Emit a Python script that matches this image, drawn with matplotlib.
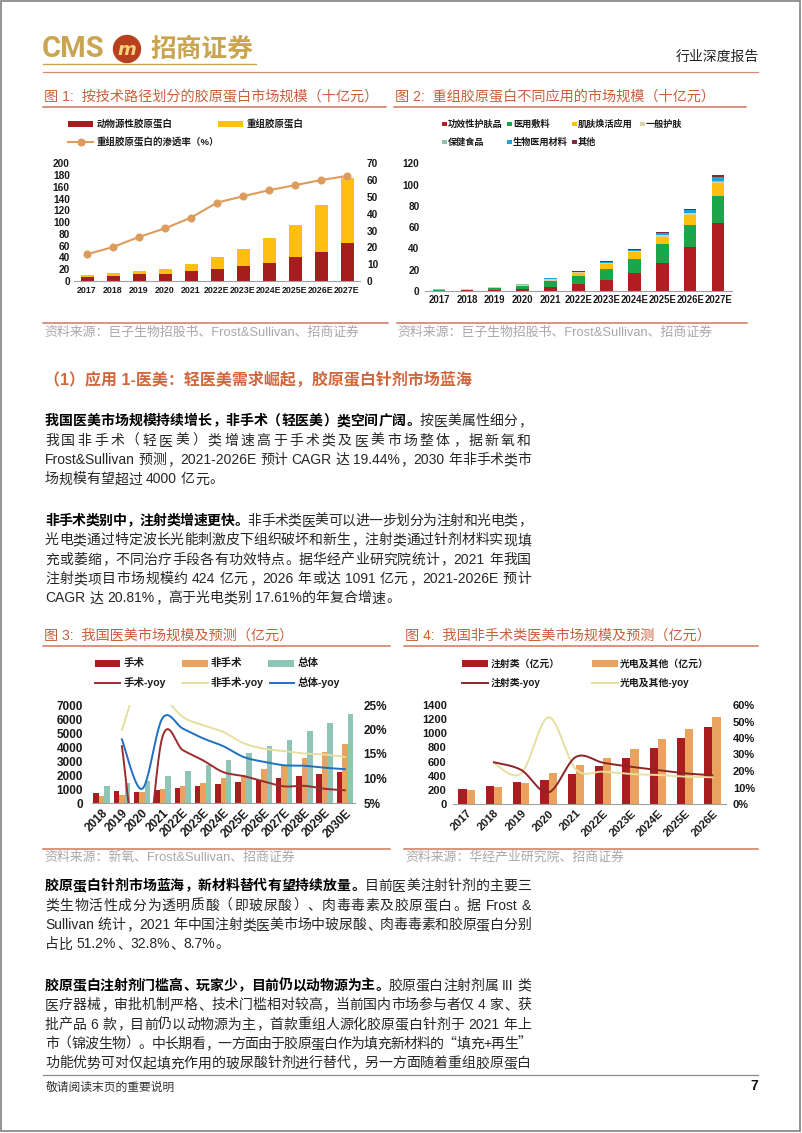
import matplotlib
matplotlib.use('Agg')
import matplotlib.pyplot as plt
import numpy as np
from matplotlib.patches import Rectangle, Ellipse
from matplotlib.lines import Line2D
from matplotlib.font_manager import FontProperties
from matplotlib.ticker import FuncFormatter

# ---------------- data ----------------
years1 = ['2017', '2018', '2019', '2020', '2021', '2022E', '2023E', '2024E', '2025E', '2026E', '2027E']
animal = [7.4, 9, 11.3, 12.5, 16.5, 20, 25, 31, 40, 50, 64]
recomb = [2.6, 4, 5.7, 8, 12.5, 21, 29, 41.5, 56, 79, 110.5]
penetration = [15.9, 20.2, 26.2, 31.3, 37.7, 46.6, 50.4, 54, 57, 60, 62.5]

app_names = ['功效性护肤品', '医用敷料', '肌肤焕活应用', '一般护肤', '保健食品', '生物医用材料', '其他']
app_func_skin = [0.3, 0.6, 1.0, 2.0, 4.2, 7.0, 10.5, 17.0, 26.5, 41.0, 64.0]
app_dressing = [0.3, 0.4, 1.5, 2.8, 5.0, 7.0, 10.0, 13.5, 17.5, 21.0, 25.0]
app_rejuv = [0.0, 0.0, 0.1, 0.2, 0.4, 3.0, 4.7, 6.3, 7.0, 9.5, 12.5]
app_general = [0.5, 0.7, 1.2, 1.0, 1.6, 0.6, 0.8, 0.8, 1.3, 1.5, 1.2]
app_health = [0.5, 0.4, 0.4, 0.3, 0.5, 0.3, 0.3, 0.3, 0.4, 0.5, 0.5]
app_biomat = [0.0, 0.0, 0.0, 0.0, 0.1, 0.3, 0.7, 0.8, 1.5, 2.5, 4.0]
app_other = [0.0, 0.0, 0.0, 0.1, 0.2, 0.7, 1.0, 1.0, 1.2, 1.5, 2.0]

years3 = ['2018', '2019', '2020', '2021', '2022E', '2023E', '2024E', '2025E', '2026E', '2027E', '2028E', '2029E', '2030E']
surgical = [750, 850, 760, 900, 1070, 1220, 1380, 1500, 1670, 1790, 1930, 2100, 2220]
nonsurgical = [490, 600, 760, 980, 1210, 1460, 1770, 2030, 2410, 2650, 3200, 3660, 4180]
total = [1220, 1460, 1550, 1940, 2290, 2700, 3100, 3540, 4040, 4520, 5110, 5730, 6380]
surgical_yoy = [16.6, -11, 18.5, 15.8, 13.7, 11.3, 10.5, 9.4, 8.4, 8.5, 7.9, 7.6]      # from 2019
nonsurgical_yoy = [19.9, 31, 27, 22.6, 20.9, 19.5, 17.2, 16.1, 15.6, 15.1, 14.9, 14.4]
total_yoy = [18.0, 7.9, 22.3, 20.2, 18.2, 16.6, 14.4, 13.4, 12.7, 12.6, 12.2, 11.9]

years4 = ['2017', '2018', '2019', '2020', '2021', '2022E', '2023E', '2024E', '2025E', '2026E']
injection = [207, 259, 316, 340, 424, 537, 655, 797, 938, 1091]
photoelec = [198, 245, 292, 443, 552, 655, 778, 915, 1061, 1235]
injection_yoy = [25.3, 20.6, 7.0, 28.5, 25.0, 22.6, 20.6, 18.6, 17.4]   # from 2018
photoelec_yoy = [24.6, 18.6, 52.5, 21.0, 19.6, 18.2, 17.6, 16.6, 16.2]

# ---------------- setup ----------------
W, H = 802, 1133
LAT = 'Liberation Sans'
CJK = 'Noto Sans CJK SC'
FAM = [LAT, CJK]
plt.rcParams['font.family'] = FAM
plt.rcParams['axes.unicode_minus'] = False
fig = plt.figure(figsize=(W / 100, H / 100), dpi=100)
PT = 100 / 72.0


def X(x):
    return x / W


def Y(y):
    return 1 - y / H


def add_ax(l, t, r, b):
    ax = fig.add_axes([X(l), Y(b), (r - l) / W, (b - t) / H])
    ax.patch.set_visible(False)
    return ax


def hline(x0, x1, y, color, lw):
    fig.add_artist(Line2D([X(x0), X(x1)], [Y(y), Y(y)], color=color, lw=lw, transform=fig.transFigure))


def style(ax, bottom=True):
    for s in ['top', 'left', 'right']:
        ax.spines[s].set_visible(False)
    ax.spines['bottom'].set_visible(bottom)
    ax.spines['bottom'].set_color('#a0a0a0')
    ax.spines['bottom'].set_linewidth(0.8)
    ax.tick_params(length=0)


def bold_ticks(ax):
    for lab in ax.get_xticklabels() + ax.get_yticklabels():
        lab.set_fontweight('bold')
        lab.set_color('#1a1a1a')


def smooth(xs, ys, n=24):
    P = np.column_stack([np.asarray(xs, float), np.asarray(ys, float)])
    out = [P[0]]
    for i in range(len(P) - 1):
        p0 = P[i - 1] if i > 0 else P[i]
        p1, p2 = P[i], P[i + 1]
        p3 = P[i + 2] if i + 2 < len(P) else P[i + 1]
        c1 = p1 + (p2 - p0) / 6
        c2 = p2 - (p3 - p1) / 6
        t = np.linspace(0, 1, n)[1:, None]
        seg = (1 - t) ** 3 * p1 + 3 * (1 - t) ** 2 * t * c1 + 3 * (1 - t) * t ** 2 * c2 + t ** 3 * p2
        out.extend(seg)
    out = np.array(out)
    return out[:, 0], out[:, 1]


def leg_patch(x0, x1, y, h, color):
    fig.add_artist(Rectangle((X(x0), Y(y + h / 2)), (x1 - x0) / W, h / H, color=color,
                             transform=fig.transFigure, lw=0))


def leg_line(x0, x1, y, color, lw=1.5, marker=None):
    fig.add_artist(Line2D([X(x0), X(x1)], [Y(y), Y(y)], color=color, lw=lw, transform=fig.transFigure))
    if marker:
        fig.add_artist(Line2D([X((x0 + x1) / 2)], [Y(y)], color=color, marker='o', ms=4.8,
                              transform=fig.transFigure, lw=0))


def leg_text(x, y, s, fs):
    fig.text(X(x), Y(y), s, ha='left', va='center', fontsize=fs, fontweight='bold',
             family=FAM, color='#1a1a1a')


# ---------------- page frame & header ----------------
fig.add_artist(Rectangle((X(1), Y(1131)), 799 / W, 1130 / H, fill=False, ec='#808080', lw=1.2,
                         transform=fig.transFigure))
GOLD = '#c9a551'
fig.text(X(42), Y(49), 'CMS', fontsize=21, family='Roboto', fontweight='bold', color=GOLD,
         ha='left', va='center')
fig.add_artist(Ellipse((X(127), Y(49)), 27 / W, 27 / H, color='#b8401f', transform=fig.transFigure))
fig.text(X(127), Y(50), 'm', fontsize=13, fontweight='bold', style='italic', color='#f4d27a',
         ha='center', va='center', family='DejaVu Sans')
fig.text(X(150), Y(49), '招商证券', fontsize=18.5, family=CJK, fontweight='bold', color=GOLD,
         ha='left', va='center')
hline(43, 256, 64, GOLD, 1.0)
fig.text(X(759), Y(57), '行业深度报告', fontsize=10, family=CJK, color='#222222', ha='right', va='center')
hline(43, 758, 72, '#d98a74', 0.9)

TITLE_C = '#c8603c'
LINE_C = '#d07858'
SRC_C = '#a8a8a8'

fig.text(X(44), Y(97), '图 1:  按技术路径划分的胶原蛋白市场规模（十亿元）', fontsize=10.2, color=TITLE_C,
         family=FAM, ha='left', va='center')
fig.text(X(395), Y(97), '图 2:  重组胶原蛋白不同应用的市场规模（十亿元）', fontsize=10.2, color=TITLE_C,
         family=FAM, ha='left', va='center')
hline(43, 386, 106.5, LINE_C, 1.1)
hline(394, 746, 106.5, LINE_C, 1.1)

# ---------------- chart 1 ----------------
C_ANIMAL = '#a51d1f'
C_RECOMB = '#fdc010'
C_PEN = '#dd9c5c'
ax1 = add_ax(74, 163.3, 360, 281)
x1 = np.arange(len(years1))
ax1.bar(x1, animal, width=0.5, color=C_ANIMAL, zorder=2)
ax1.bar(x1, recomb, width=0.5, bottom=animal, color=C_RECOMB, zorder=2)
ax1.set_xlim(-0.5, len(years1) - 0.5)
ax1.set_ylim(0, 200)
ax1.set_yticks(range(0, 201, 20))
ax1.set_xticks(x1)
ax1.set_xticklabels(years1)
style(ax1)
ax1.tick_params(axis='y', labelsize=7.3, pad=3)
ax1.tick_params(axis='x', labelsize=6.4, pad=3.5)
bold_ticks(ax1)
ax1r = ax1.twinx()
ax1r.patch.set_visible(False)
ax1r.plot(x1, penetration, color=C_PEN, lw=1.5, marker='o', ms=4.8, zorder=3)
ax1r.set_ylim(0, 70)
ax1r.set_yticks(range(0, 71, 10))
style(ax1r, bottom=False)
ax1r.tick_params(axis='y', labelsize=7.3, pad=5)
bold_ticks(ax1r)

leg_patch(68, 93, 124, 6, C_ANIMAL)
leg_text(97, 124, '动物源性胶原蛋白', 6.8)
leg_patch(218, 243, 124, 6, C_RECOMB)
leg_text(247, 124, '重组胶原蛋白', 6.8)
leg_line(68, 93, 142, C_PEN, 1.5, marker=True)
leg_text(97, 142, '重组胶原蛋白的渗透率（%）', 6.8)

# ---------------- chart 2 ----------------
app_series = [app_func_skin, app_dressing, app_rejuv, app_general, app_health, app_biomat, app_other]
app_colors = ['#b01e23', '#1aa64b', '#fdc010', '#d9d1a3', '#8ec3a8', '#1ba3dc', '#7d2b35']
ax2 = add_ax(425, 163.3, 732, 291)
x2 = np.arange(len(years1))
bottom = np.zeros(len(years1))
for vals, col in zip(app_series, app_colors):
    ax2.bar(x2, vals, width=0.45, bottom=bottom, color=col, zorder=2)
    bottom += np.asarray(vals)
ax2.set_xlim(-0.5, len(years1) - 0.5)
ax2.set_ylim(0, 120)
ax2.set_yticks(range(0, 121, 20))
ax2.set_xticks(x2)
ax2.set_xticklabels(years1)
style(ax2)
ax2.tick_params(axis='y', labelsize=7.2, pad=4)
ax2.tick_params(axis='x', labelsize=6.9, pad=3)
bold_ticks(ax2)

leg_pos = [(442, 124), (507, 124), (572, 124), (640, 124), (442, 142), (507, 142), (572, 142)]
for (lx, ly), name, col in zip(leg_pos, app_names, app_colors):
    leg_patch(lx, lx + 4.5, ly, 4.5, col)
    leg_text(lx + 6, ly, name, 6.6)

# sources 1/2
hline(43, 388, 323, LINE_C, 1.1)
hline(397, 747, 323, LINE_C, 1.1)
fig.text(X(44), Y(333), '资料来源：巨子生物招股书、Frost&Sullivan、招商证券', fontsize=9.3, color=SRC_C,
         family=FAM, ha='left', va='center')
fig.text(X(397), Y(333), '资料来源：巨子生物招股书、Frost&Sullivan、招商证券', fontsize=9.3, color=SRC_C,
         family=FAM, ha='left', va='center')

# ---------------- section heading ----------------
fig.text(X(44), Y(380), '（1）应用 1-医美：轻医美需求崛起，胶原蛋白针剂市场蓝海', fontsize=11.5,
         fontweight='bold', color='#d0663e', family=FAM, ha='left', va='center')

# ---------------- body text (justified) ----------------
BODY_FS = 10
EM = BODY_FS * PT
renderer = fig.canvas.get_renderer()
LEFT_P = set('，。、）；：！？”’》】')
RIGHT_P = set('（“‘《【')


def is_cjk(ch):
    return ord(ch) > 0x2000


def tokenize(segments):
    toks = []
    pending = False
    for text, bold in segments:
        buf = ''
        bufsp = False
        for ch in text:
            if ch == ' ':
                if buf:
                    toks.append((buf, bold, 'lat', bufsp))
                    buf = ''
                pending = True
            elif is_cjk(ch):
                if buf:
                    toks.append((buf, bold, 'lat', bufsp))
                    buf = ''
                toks.append((ch, bold, 'cjk', pending))
                pending = False
            else:
                if not buf:
                    bufsp = pending
                    pending = False
                buf += ch
        if buf:
            toks.append((buf, bold, 'lat', bufsp))
    return toks


def draw_line(x0, x1, yc, segments, justify=True):
    toks = tokenize(segments)
    widths = []
    for s, bold, kind, _ in toks:
        if kind == 'cjk':
            widths.append(EM)
        else:
            fp = FontProperties(family=LAT, size=BODY_FS, weight='bold' if bold else 'normal')
            w, h, d = renderer.get_text_width_height_descent(s, fp, ismath=False)
            widths.append(w)
    gaps = [0.28 * EM if t[3] else 0.0 for t in toks[1:]]
    natural = sum(widths) + sum(gaps)
    extra = (x1 - x0 - natural) / (len(toks) - 1) if (justify and len(toks) > 1) else 0.0
    base = yc + 0.37 * EM
    x = x0
    for i, (s, bold, kind, _) in enumerate(toks):
        if i > 0:
            x += gaps[i - 1] + extra
        w = widths[i]
        wt = 'bold' if bold else 'normal'
        col = '#000000' if bold else '#262626'
        if kind == 'cjk':
            if s in LEFT_P:
                fig.text(X(x + 0.06 * EM), Y(base), s, ha='left', va='baseline', family=CJK,
                         fontsize=BODY_FS, fontweight=wt, color=col)
            elif s in RIGHT_P:
                fig.text(X(x + 0.94 * EM), Y(base), s, ha='right', va='baseline', family=CJK,
                         fontsize=BODY_FS, fontweight=wt, color=col)
            else:
                fig.text(X(x + w / 2), Y(base), s, ha='center', va='baseline', family=CJK,
                         fontsize=BODY_FS, fontweight=wt, color=col)
        else:
            fig.text(X(x), Y(base), s, ha='left', va='baseline', family=LAT,
                     fontsize=BODY_FS, fontweight=wt, color=col)
        x += w


TX0, TX1 = 45, 531
LS = 19.4
para1 = [
    [('我国医美市场规模持续增长，非手术（轻医美）类空间广阔。', True), ('按医美属性细分，', False)],
    [('我国非手术（轻医美）类增速高于手术类及医美市场整体，据新氧和', False)],
    [('Frost&Sullivan 预测，2021-2026E 预计 CAGR 达 19.44%，2030 年非手术类市', False)],
    [('场规模有望超过 4000 亿元。', False)],
]
para2 = [
    [('非手术类别中，注射类增速更快。', True), ('非手术类医美可以进一步划分为注射和光电类，', False)],
    [('光电类通过特定波长光能刺激皮下组织破坏和新生，注射类通过针剂材料实现填', False)],
    [('充或萎缩，不同治疗手段各有功效特点。据华经产业研究院统计，2021 年我国', False)],
    [('注射类项目市场规模约 424 亿元，2026 年或达 1091 亿元，2021-2026E 预计', False)],
    [('CAGR 达 20.81%，高于光电类别 17.61%的年复合增速。', False)],
]
para3 = [
    [('胶原蛋白针剂市场蓝海，新材料替代有望持续放量。', True), ('目前医美注射针剂的主要三', False)],
    [('类生物活性成分为透明质酸（即玻尿酸）、肉毒毒素及胶原蛋白。据 Frost &', False)],
    [('Sullivan 统计，2021 年中国注射类医美市场中玻尿酸、肉毒毒素和胶原蛋白分别', False)],
    [('占比 51.2%、32.8%、8.7%。', False)],
]
para4 = [
    [('胶原蛋白注射剂门槛高、玩家少，目前仍以动物源为主。', True), ('胶原蛋白注射剂属 III 类', False)],
    [('医疗器械，审批机制严格、技术门槛相对较高，当前国内市场参与者仅 4 家、获', False)],
    [('批产品 6 款，目前仍以动物源为主，首款重组人源化胶原蛋白针剂于 2021 年上', False)],
    [('市（锦波生物）。中长期看，一方面由于胶原蛋白作为填充新材料的“填充+再生”', False)],
    [('功能优势可对仅起填充作用的玻尿酸针剂进行替代，另一方面随着重组胶原蛋白', False)],
]


def draw_para(lines, y0, last_justify=False):
    for i, seg in enumerate(lines):
        just = (i < len(lines) - 1) or last_justify
        draw_line(TX0, TX1, y0 + i * LS, seg, justify=just)
    return y0 + (len(lines) - 1) * LS


yend = draw_para(para1, 420)
draw_para(para2, yend + LS + 22)
yend = draw_para(para3, 885)
draw_para(para4, yend + LS + 22, last_justify=True)

# ---------------- chart 3 ----------------
fig.text(X(44), Y(636), '图 3:  我国医美市场规模及预测（亿元）', fontsize=10.2, color=TITLE_C,
         family=FAM, ha='left', va='center')
fig.text(X(405), Y(636), '图 4:  我国非手术类医美市场规模及预测（亿元）', fontsize=10.2, color=TITLE_C,
         family=FAM, ha='left', va='center')
hline(43, 390, 646, LINE_C, 1.1)
hline(404, 758, 646, LINE_C, 1.1)

C_SUR = '#a91c1f'
C_NON = '#e9a35f'
C_TOT = '#8fc5b6'
C_SUR_L = '#9b2b2d'
C_NON_L = '#e7dea0'
C_TOT_L = '#1f70c1'

ax3 = add_ax(91.5, 705, 355, 803)
x3 = np.arange(len(years3))
bw = 0.27
ax3.bar(x3 - bw, surgical, width=bw, color=C_SUR, zorder=2)
ax3.bar(x3, nonsurgical, width=bw, color=C_NON, zorder=2)
ax3.bar(x3 + bw, total, width=bw, color=C_TOT, zorder=2)
ax3.set_xlim(-0.5, len(years3) - 0.5)
ax3.set_ylim(0, 7000)
ax3.set_yticks(range(0, 7001, 1000))
ax3.set_xticks(x3)
ax3.set_xticklabels(years3, rotation=45, ha='right', va='top', rotation_mode='anchor')
style(ax3)
ax3.tick_params(axis='y', labelsize=8.5, pad=6)
ax3.tick_params(axis='x', labelsize=8.5, pad=3)
bold_ticks(ax3)
ax3r = ax3.twinx()
ax3r.patch.set_visible(False)
xl = x3[1:]
for vals, col in [(nonsurgical_yoy, C_NON_L), (surgical_yoy, C_SUR_L), (total_yoy, C_TOT_L)]:
    sx, sy = smooth(xl, vals)
    ax3r.plot(sx, sy, color=col, lw=1.4, zorder=3)
ax3r.set_ylim(5, 25)
ax3r.set_yticks([5, 10, 15, 20, 25])
ax3r.yaxis.set_major_formatter(FuncFormatter(lambda v, p: f'{v:.0f}%'))
style(ax3r, bottom=False)
ax3r.tick_params(axis='y', labelsize=8.5, pad=6)
bold_ticks(ax3r)

leg_patch(95, 120, 663.3, 6.5, C_SUR)
leg_text(124, 663.3, '手术', 7.6)
leg_patch(182, 208, 663.3, 6.5, C_NON)
leg_text(211, 663.3, '非手术', 7.6)
leg_patch(268, 294, 663.3, 6.5, C_TOT)
leg_text(298, 663.3, '总体', 7.6)
leg_line(95, 120, 682.7, C_SUR_L, 1.4)
leg_text(124, 682.7, '手术-yoy', 7.6)
leg_line(182, 208, 682.7, C_NON_L, 1.4)
leg_text(211, 682.7, '非手术-yoy', 7.6)
leg_line(270, 294, 682.7, C_TOT_L, 1.4)
leg_text(298, 682.7, '总体-yoy', 7.6)

# ---------------- chart 4 ----------------
C_INJ = '#a91c1f'
C_PHO = '#e9a35f'
C_INJ_L = '#8c2427'
C_PHO_L = '#e7dea0'
ax4 = add_ax(453, 705, 726, 804)
x4 = np.arange(len(years4))
bw4 = 0.3
ax4.bar(x4 - bw4 / 2, injection, width=bw4, color=C_INJ, zorder=2)
ax4.bar(x4 + bw4 / 2, photoelec, width=bw4, color=C_PHO, zorder=2)
ax4.set_xlim(-0.5, len(years4) - 0.5)
ax4.set_ylim(0, 1400)
ax4.set_yticks(range(0, 1401, 200))
ax4.set_xticks(x4)
ax4.set_xticklabels(years4, rotation=45, ha='right', va='top', rotation_mode='anchor')
style(ax4)
ax4.tick_params(axis='y', labelsize=8, pad=4.5)
ax4.tick_params(axis='x', labelsize=8, pad=3)
bold_ticks(ax4)
ax4r = ax4.twinx()
ax4r.patch.set_visible(False)
xl4 = x4[1:]
for vals, col in [(photoelec_yoy, C_PHO_L), (injection_yoy, C_INJ_L)]:
    sx, sy = smooth(xl4, vals)
    ax4r.plot(sx, sy, color=col, lw=1.4, zorder=3)
ax4r.set_ylim(0, 60)
ax4r.set_yticks(range(0, 61, 10))
ax4r.yaxis.set_major_formatter(FuncFormatter(lambda v, p: f'{v:.0f}%'))
style(ax4r, bottom=False)
ax4r.tick_params(axis='y', labelsize=8, pad=5)
bold_ticks(ax4r)

leg_patch(462, 488, 663.3, 6.5, C_INJ)
leg_text(491, 663.3, '注射类（亿元）', 7.1)
leg_patch(592, 618, 663.3, 6.5, C_PHO)
leg_text(620, 663.3, '光电及其他（亿元）', 7.1)
leg_line(462, 488, 682.7, C_INJ_L, 1.4)
leg_text(491, 682.7, '注射类-yoy', 7.1)
leg_line(592, 618, 682.7, C_PHO_L, 1.4)
leg_text(620, 682.7, '光电及其他-yoy', 7.1)

# sources 3/4
hline(43, 390, 849, LINE_C, 1.1)
hline(404, 758, 849, LINE_C, 1.1)
fig.text(X(44), Y(858), '资料来源：新氧、Frost&Sullivan、招商证券', fontsize=9.3, color=SRC_C,
         family=FAM, ha='left', va='center')
fig.text(X(405), Y(858), '资料来源：华经产业研究院、招商证券', fontsize=9.3, color=SRC_C,
         family=FAM, ha='left', va='center')

# ---------------- footer ----------------
hline(43, 758, 1075, '#8a8a8a', 0.9)
fig.text(X(46), Y(1087), '敬请阅读末页的重要说明', fontsize=8.5, color='#333333', family=CJK,
         ha='left', va='center')
fig.text(X(758), Y(1086), '7', fontsize=10, fontweight='bold', color='#111111', family=LAT,
         ha='right', va='center')

fig.savefig('out.png', dpi=100)
